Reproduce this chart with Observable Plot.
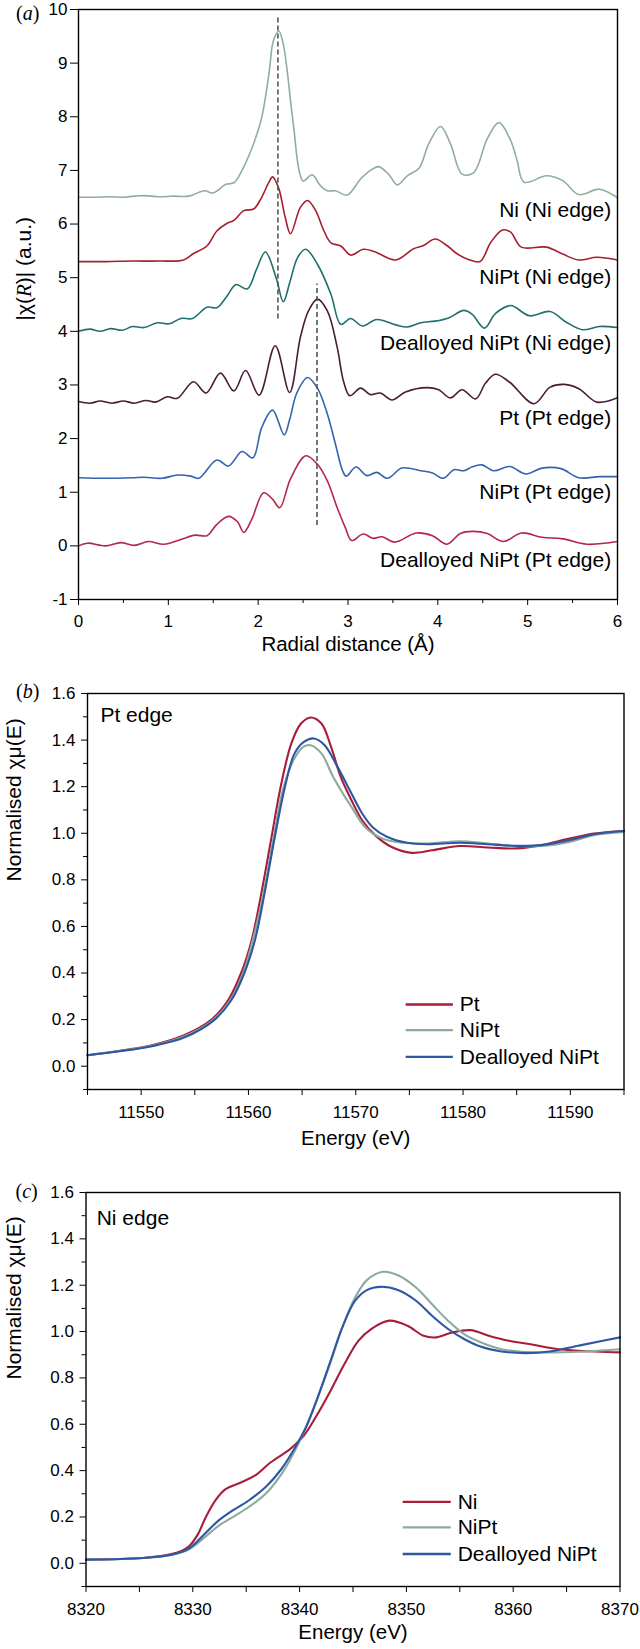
<!DOCTYPE html>
<html><head><meta charset="utf-8">
<script src="https://cdn.jsdelivr.net/npm/d3@7"></script>
<script src="https://cdn.jsdelivr.net/npm/@observablehq/plot@0.6"></script>
<style>
body{margin:0;background:#fff;}
#wrap{position:relative;width:640px;height:1649px;background:#fff;font-family:"Liberation Sans",Arial,sans-serif;}
.panel{position:absolute;left:0;}
.plab{position:absolute;font-family:"Liberation Serif","Times New Roman",serif;font-size:20px;line-height:20px;color:#000;}
</style></head><body><div id="wrap"></div>
<script>
// ---------- Panel (a): Fourier transforms ----------
const aXMajor = [0, 1, 2, 3, 4, 5, 6];
const aXMinor = [0.5, 1.5, 2.5, 3.5, 4.5, 5.5];
const aYMajor = [-1, 0, 1, 2, 3, 4, 5, 6, 7, 8, 9, 10];
const aSeriesNames = ["Ni (Ni edge)", "NiPt (Ni edge)", "Dealloyed NiPt (Ni edge)", "Pt (Pt edge)", "NiPt (Pt edge)", "Dealloyed NiPt (Pt edge)"];
const aSeriesColors = ["#8fae9f", "#a51f2e", "#1f6f6f", "#4a1c38", "#3563ae", "#b4274a"];
const aLabelY = [6.25, 5.01, 3.78, 2.38, 1.00, -0.27];
const dashR = [2.22, 2.655];
const dashLo = [4.23, 0.38];
const dashHi = [9.84, 4.88];

const niNi = [[0,6.50],[0.17,6.50],[0.35,6.51],[0.5,6.50],[0.62,6.52],[0.73,6.53],[0.9,6.51],[1.05,6.52],[1.23,6.52],[1.40,6.62],[1.50,6.58],[1.64,6.74],[1.73,6.77],[1.82,7.00],[1.95,7.50],[2.04,7.99],[2.12,8.80],[2.17,9.42],[2.23,9.60],[2.28,9.35],[2.32,8.90],[2.36,8.30],[2.40,7.74],[2.45,7.05],[2.50,6.80],[2.60,6.92],[2.69,6.72],[2.77,6.62],[2.86,6.62],[2.99,6.54],[3.14,6.84],[3.25,7.00],[3.34,7.07],[3.45,6.93],[3.55,6.73],[3.66,6.90],[3.79,7.04],[3.90,7.50],[4.03,7.82],[4.14,7.50],[4.27,6.93],[4.40,6.96],[4.55,7.59],[4.68,7.89],[4.81,7.56],[4.88,7.20],[4.96,6.78],[5.21,6.90],[5.39,6.81],[5.57,6.55],[5.80,6.65],[6.0,6.49]];
const niptNi = [[0,5.30],[0.3,5.30],[0.6,5.31],[0.9,5.31],[1.17,5.33],[1.28,5.45],[1.43,5.59],[1.54,5.87],[1.65,6.01],[1.73,6.07],[1.84,6.25],[1.95,6.28],[2.03,6.47],[2.12,6.78],[2.16,6.88],[2.23,6.66],[2.30,6.13],[2.36,5.82],[2.47,6.31],[2.55,6.44],[2.64,6.25],[2.73,5.88],[2.81,5.65],[2.92,5.59],[3.03,5.42],[3.17,5.53],[3.29,5.49],[3.53,5.33],[3.73,5.54],[3.84,5.60],[3.97,5.72],[4.10,5.60],[4.21,5.45],[4.34,5.34],[4.47,5.30],[4.59,5.66],[4.72,5.89],[4.81,5.85],[4.93,5.57],[5.21,5.57],[5.39,5.44],[5.57,5.33],[5.77,5.38],[6.0,5.33]];
const dealNi = [[0,4.00],[0.13,4.04],[0.24,4.00],[0.36,4.05],[0.49,4.02],[0.60,4.09],[0.73,4.07],[0.88,4.16],[1.01,4.14],[1.14,4.24],[1.27,4.24],[1.43,4.45],[1.54,4.44],[1.65,4.65],[1.75,4.87],[1.88,4.79],[1.98,5.15],[2.08,5.48],[2.20,5.00],[2.28,4.55],[2.35,4.90],[2.44,5.38],[2.53,5.53],[2.66,5.25],[2.81,4.69],[2.92,4.13],[3.03,4.24],[3.16,4.10],[3.32,4.22],[3.53,4.12],[3.66,4.08],[3.81,4.16],[3.97,4.19],[4.12,4.25],[4.29,4.39],[4.38,4.32],[4.52,4.06],[4.64,4.33],[4.81,4.48],[5.02,4.29],[5.25,4.37],[5.43,4.17],[5.61,4.03],[5.80,4.09],[6.0,4.07]];
const ptPt = [[0,2.69],[0.13,2.66],[0.24,2.70],[0.37,2.66],[0.50,2.70],[0.62,2.66],[0.75,2.71],[0.86,2.68],[0.99,2.78],[1.10,2.75],[1.28,3.06],[1.42,2.85],[1.58,3.22],[1.73,2.89],[1.86,3.27],[2.01,2.81],[2.19,3.73],[2.35,2.86],[2.47,3.89],[2.56,4.38],[2.66,4.60],[2.77,4.38],[2.88,3.70],[2.95,3.07],[3.02,2.80],[3.14,2.94],[3.25,2.82],[3.36,2.85],[3.49,2.72],[3.64,2.87],[3.88,2.95],[4.01,2.91],[4.14,2.76],[4.27,2.91],[4.42,2.74],[4.53,3.03],[4.64,3.20],[4.80,3.05],[5.07,2.65],[5.25,2.96],[5.41,3.01],[5.57,2.93],[5.77,2.68],[6.0,2.76]];
const niptPt = [[0,1.27],[0.3,1.26],[0.6,1.27],[0.73,1.28],[0.93,1.26],[1.10,1.32],[1.25,1.30],[1.34,1.26],[1.54,1.60],[1.67,1.49],[1.82,1.76],[1.94,1.64],[2.04,2.21],[2.16,2.53],[2.29,2.07],[2.35,2.35],[2.43,2.85],[2.55,3.14],[2.66,2.94],[2.77,2.46],[2.86,1.90],[2.94,1.40],[2.98,1.30],[3.09,1.47],[3.21,1.31],[3.32,1.37],[3.44,1.26],[3.60,1.45],[3.81,1.40],[3.94,1.36],[4.06,1.26],[4.18,1.42],[4.29,1.40],[4.38,1.47],[4.49,1.51],[4.62,1.40],[4.80,1.48],[4.98,1.34],[5.16,1.45],[5.37,1.44],[5.57,1.27],[5.80,1.29],[6.0,1.29]];
const dealPt = [[0,0.00],[0.10,0.05],[0.30,0.00],[0.47,0.06],[0.62,0.01],[0.78,0.08],[0.95,0.03],[1.14,0.12],[1.30,0.20],[1.43,0.19],[1.54,0.40],[1.67,0.55],[1.77,0.45],[1.84,0.25],[1.93,0.50],[2.06,0.99],[2.16,0.87],[2.24,0.71],[2.36,1.25],[2.53,1.68],[2.66,1.52],[2.77,1.21],[2.88,0.71],[2.97,0.34],[3.04,0.10],[3.17,0.22],[3.28,0.14],[3.38,0.17],[3.52,0.07],[3.76,0.24],[3.94,0.19],[4.10,0.03],[4.25,0.23],[4.39,0.27],[4.55,0.23],[4.73,0.08],[4.93,0.24],[5.16,0.16],[5.39,0.13],[5.66,0.03],[6.0,0.08]];
const aSeries = [niNi, niptNi, dealNi, ptPt, niptPt, dealPt];

// ---------- Panel (b): Pt edge XANES ----------
const bXMajor = [11550, 11560, 11570, 11580, 11590];
const bXMinor = [11545, 11555, 11565, 11575, 11585, 11595];
const yMajorN = [0, 0.2, 0.4, 0.6, 0.8, 1.0, 1.2, 1.4, 1.6];
const yMinorN = [-0.1, 0.1, 0.3, 0.5, 0.7, 0.9, 1.1, 1.3, 1.5];
const bNames = ["Pt", "NiPt", "Dealloyed NiPt"];
const bColors = ["#aa1d3a", "#8aab9d", "#2d57a3"];
const bPt = [[11545,0.047],[11548,0.066],[11551,0.090],[11554,0.133],[11556.5,0.198],[11558.1,0.283],[11559.3,0.398],[11560.3,0.541],[11561.2,0.742],[11562.1,0.970],[11563.0,1.199],[11564.0,1.386],[11564.9,1.471],[11565.8,1.497],[11566.8,1.471],[11567.7,1.371],[11568.6,1.242],[11569.6,1.142],[11570.6,1.056],[11571.8,0.992],[11573.3,0.942],[11575.2,0.916],[11577.1,0.927],[11579.7,0.945],[11582.3,0.939],[11585.0,0.935],[11587.3,0.949],[11589.9,0.977],[11592.2,0.999],[11595,1.010]];
const bNiPt = [[11545,0.047],[11548,0.065],[11551,0.088],[11554,0.128],[11556.6,0.195],[11558.3,0.283],[11559.5,0.398],[11560.4,0.541],[11561.4,0.742],[11562.3,0.970],[11563.2,1.185],[11564.2,1.314],[11565.1,1.371],[11565.8,1.378],[11566.8,1.343],[11567.9,1.242],[11569.6,1.113],[11571.0,1.020],[11572.5,0.977],[11574.4,0.959],[11576.7,0.956],[11579.7,0.966],[11582.3,0.956],[11585.0,0.945],[11587.3,0.945],[11589.9,0.963],[11592.2,0.992],[11595,1.006]];
const bDeal = [[11545,0.047],[11548,0.064],[11551,0.086],[11554,0.123],[11556.8,0.198],[11558.4,0.283],[11559.6,0.398],[11560.6,0.541],[11561.5,0.742],[11562.4,0.970],[11563.4,1.199],[11564.3,1.343],[11565.2,1.393],[11566.1,1.407],[11567.1,1.378],[11568.3,1.285],[11569.6,1.171],[11570.6,1.085],[11571.6,1.025],[11572.9,0.985],[11574.8,0.959],[11576.7,0.953],[11579.7,0.959],[11582.3,0.953],[11585.0,0.946],[11587.3,0.949],[11589.9,0.970],[11592.2,0.996],[11595,1.010]];
const bSeries = [bPt, bNiPt, bDeal];

// ---------- Panel (c): Ni edge XANES ----------
const cXMajor = [8320, 8330, 8340, 8350, 8360, 8370];
const cXMinor = [8325, 8335, 8345, 8355, 8365];
const cNames = ["Ni", "NiPt", "Dealloyed NiPt"];
const cColors = ["#aa1d3a", "#8aab9d", "#2d57a3"];
const cNi = [[8320,0.016],[8325.3,0.023],[8328.0,0.040],[8329.0,0.055],[8329.7,0.076],[8330.5,0.127],[8331.2,0.198],[8332.2,0.277],[8333.1,0.321],[8334.5,0.349],[8335.8,0.378],[8337.3,0.436],[8339.1,0.493],[8340.4,0.551],[8341.5,0.630],[8342.9,0.745],[8344.2,0.860],[8345.5,0.960],[8346.7,1.011],[8348.4,1.047],[8350.1,1.025],[8351.6,0.982],[8352.8,0.975],[8354.3,0.996],[8356.0,1.006],[8357.7,0.982],[8359.6,0.960],[8361.5,0.946],[8363.8,0.927],[8366.1,0.917],[8370,0.910]];
const cNiPt = [[8320,0.016],[8325.3,0.023],[8328.0,0.036],[8329.7,0.062],[8331.1,0.112],[8332.4,0.162],[8333.7,0.198],[8335.2,0.242],[8336.8,0.299],[8338.3,0.385],[8339.4,0.472],[8340.6,0.587],[8341.7,0.716],[8342.9,0.867],[8344.0,1.018],[8345.2,1.147],[8346.3,1.222],[8347.8,1.258],[8349.3,1.241],[8350.9,1.190],[8352.4,1.118],[8353.9,1.047],[8355.4,0.989],[8357.0,0.953],[8358.9,0.924],[8360.8,0.913],[8363.4,0.910],[8366.1,0.913],[8370,0.924]];
const cDeal = [[8320,0.016],[8325.3,0.023],[8328.0,0.037],[8329.7,0.066],[8331.1,0.127],[8332.4,0.184],[8333.7,0.227],[8335.2,0.270],[8336.8,0.328],[8338.3,0.407],[8339.4,0.486],[8340.6,0.587],[8341.7,0.716],[8342.9,0.874],[8344.0,1.018],[8345.2,1.133],[8346.3,1.179],[8347.6,1.193],[8349.2,1.179],[8350.9,1.133],[8352.4,1.068],[8353.9,1.011],[8355.4,0.968],[8357.0,0.934],[8358.9,0.914],[8361.2,0.907],[8363.4,0.914],[8366.1,0.939],[8368.4,0.960],[8370,0.975]];
const cSeries = [cNi, cNiPt, cDeal];

const legendY = [0.265, 0.155, 0.040];

// ---------- helpers ----------
const FONT = '"Liberation Sans", Arial, Helvetica, sans-serif';
const fmt1 = d3.format(".1f");
const str = d => String(d);
function curve(pts, color, w) {
  return Plot.line(pts, {x: d => d[0], y: d => d[1], stroke: color, strokeWidth: w, curve: "catmull-rom"});
}
function italicize(svg, label, parts) {
  d3.select(svg).selectAll("text").filter(function() { return this.textContent === label; }).each(function() {
    const t = d3.select(this);
    t.text(null);
    parts.forEach(([s, it]) => { const ts = t.append("tspan").text(s); if (it) ts.attr("font-style", "italic").attr("font-family", '"Liberation Serif", serif'); });
  });
}
function place(svg, top) {
  const d = document.createElement("div");
  d.className = "panel"; d.style.top = top + "px";
  d.appendChild(svg);
  document.getElementById("wrap").appendChild(d);
}
function plab(html, left, top) {
  const d = document.createElement("div");
  d.className = "plab"; d.style.left = left + "px"; d.style.top = top + "px";
  d.innerHTML = html;
  document.getElementById("wrap").appendChild(d);
}

// ---------- Panel (a) ----------
const aLabel = "|\u03c7(R)| (a.u.)";
const svgA = Plot.plot({
  width: 640, height: 665,
  marginTop: 9, marginBottom: 66, marginLeft: 78, marginRight: 23,
  style: {fontFamily: FONT, fontSize: "17px", color: "#000", background: "#fff"},
  x: {domain: [0, 6], label: null},
  y: {domain: [-1, 10], label: null},
  marks: [
    ...aSeries.map((s, i) => curve(s, aSeriesColors[i], 1.6)),
    Plot.ruleX(dashR, {x: d => d, y1: (d, i) => dashLo[i], y2: (d, i) => dashHi[i], stroke: "#555", strokeWidth: 1.6, strokeDasharray: "5,3"}),
    Plot.text(aSeriesNames, {x: 5.93, y: (d, i) => aLabelY[i], text: d => d, textAnchor: "end", fontSize: 21}),
    Plot.axisX({ticks: aXMajor, tickSize: 6, tickPadding: 9, tickFormat: str}),
    Plot.axisX({ticks: aXMinor, tickSize: 4, tickFormat: () => ""}),
    Plot.axisY({ticks: aYMajor, tickSize: 8, tickPadding: 3, tickFormat: str}),
    Plot.text(["Radial distance (\u00c5)"], {frameAnchor: "bottom", dy: 51, fontSize: 20.5}),
    Plot.text([aLabel], {frameAnchor: "left", rotate: -90, dx: -54, dy: 16, fontSize: 21}),
    Plot.frame({stroke: "#000", strokeWidth: 1.4})
  ]
});
italicize(svgA, aLabel, [["|\u03c7(", false], ["R", true], [")| (a.u.)", false]]);
place(svgA, 0);

// ---------- Panel (b)/(c) builder ----------
function xanes({height, mt, mb, ml, mr, xDomain, xMajor, xMinor, series, colors, names, edgeText, edgeX, edgeY, legX1, legX2, legTX, yLabDy, xLabDy}) {
  return Plot.plot({
    width: 640, height,
    marginTop: mt, marginBottom: mb, marginLeft: ml, marginRight: mr,
    style: {fontFamily: FONT, fontSize: "17px", color: "#000", background: "#fff"},
    x: {domain: xDomain, label: null},
    y: {domain: [-0.1, 1.6], label: null},
    marks: [
      ...series.map((s, i) => curve(s, colors[i], 2.1)),
      ...names.map((n, i) => Plot.ruleY([legendY[i]], {x1: legX1, x2: legX2, stroke: colors[i], strokeWidth: 2.4})),
      Plot.text(names, {x: legTX, y: (d, i) => legendY[i], text: d => d, textAnchor: "start", fontSize: 21}),
      Plot.text([edgeText], {x: edgeX, y: edgeY, text: d => d, textAnchor: "start", fontSize: 21}),
      Plot.axisX({ticks: xMajor, tickSize: 6, tickPadding: 10, tickFormat: str}),
      Plot.axisX({ticks: xMinor, tickSize: 6, tickFormat: () => ""}),
      Plot.axisY({ticks: yMajorN, tickSize: 6, tickPadding: 6, tickFormat: fmt1}),
      Plot.axisY({ticks: yMinorN, tickSize: 4, tickFormat: () => ""}),
      Plot.text(["Energy (eV)"], {frameAnchor: "bottom", dy: xLabDy, fontSize: 20.5}),
      Plot.text(["Normalised \u03c7\u03bc(E)"], {frameAnchor: "left", rotate: -90, dx: -ml + 14, dy: yLabDy, fontSize: 21}),
      Plot.frame({stroke: "#000", strokeWidth: 1.4})
    ]
  });
}

const svgB = xanes({height: 495, mt: 28, mb: 71, ml: 87, mr: 16.5,
  xDomain: [11545, 11595], xMajor: bXMajor, xMinor: bXMinor,
  series: bSeries, colors: bColors, names: bNames,
  edgeText: "Pt edge", edgeX: 11546.2, edgeY: 1.507,
  legX1: 11574.7, legX2: 11579.1, legTX: 11579.7, yLabDy: -10, xLabDy: 55});
place(svgB, 665);

const svgC = xanes({height: 489, mt: 32, mb: 63, ml: 85.5, mr: 20.5,
  xDomain: [8320, 8370], xMajor: cXMajor, xMinor: cXMinor,
  series: cSeries, colors: cColors, names: cNames,
  edgeText: "Ni edge", edgeX: 8321.0, edgeY: 1.489,
  legX1: 8349.7, legX2: 8354.2, legTX: 8354.8, yLabDy: -10, xLabDy: 52});
place(svgC, 1160);

plab("(<i>a</i>)", 16, 3);
plab("(<i>b</i>)", 16, 681);
plab("(<i>c</i>)", 15.5, 1181);
</script>
</body></html>
